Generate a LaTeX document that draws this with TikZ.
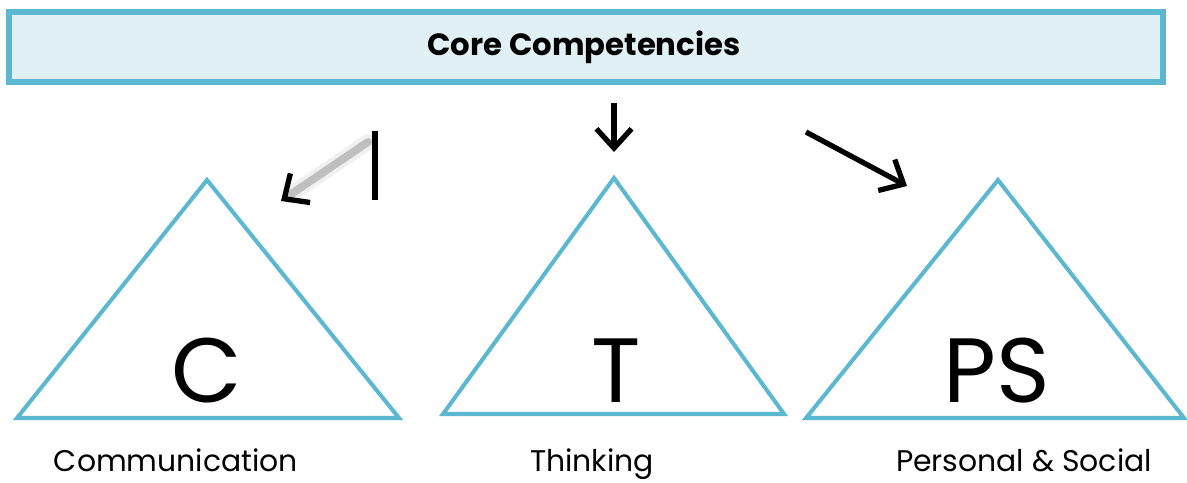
\documentclass[tikz,border=0pt]{standalone}
\usepackage{fontspec}
\setmainfont{Poppins}
\usetikzlibrary{arrows.meta,calc}
\definecolor{edgeblue}{HTML}{5BB8D0}
\definecolor{fillblue}{HTML}{E1F0F5}
\tikzset{
  tri/.style={draw=edgeblue, line width=2.3pt, line join=miter},
  arr/.style={line width=3pt, -{Straight Barb[length=11pt,width=20pt,line width=3pt]}},
  biglet/.style={font=\fontsize{52}{52}\selectfont, anchor=base, inner sep=0pt},
  lab/.style={font=\fontsize{17}{17}\selectfont, anchor=base, inner sep=0pt},
}
\begin{document}
\begin{tikzpicture}[x=0.02cm, y=-0.02cm]
\useasboundingbox (0,0) rectangle (1187,483);
% header
\node[draw=edgeblue, fill=fillblue, line width=3pt, minimum width=1154*0.02cm, minimum height=70*0.02cm, inner sep=0pt, anchor=center] (core) at (586,47) {};
\node[font=\fontsize{17.5}{17.5}\selectfont\bfseries, inner sep=0pt] (coretxt) at (584,47) {Core Competencies};
% triangles
\coordinate (cA) at (207,180); \coordinate (cL) at (17,418); \coordinate (cR) at (399,418);
\coordinate (tA) at (614,178); \coordinate (tL) at (443,414); \coordinate (tR) at (784,414);
\coordinate (pA) at (998,180); \coordinate (pL) at (806,418); \coordinate (pR) at (1184,418);
\draw[tri] (cA) -- (cL) -- (cR) -- cycle;
\draw[tri] (tA) -- (tL) -- (tR) -- cycle;
\draw[tri] (pA) -- (pL) -- (pR) -- cycle;
% big letters
\node[biglet] (Cl) at (207,402) {C};
\node[biglet] (Tl) at (616,402) {T};
\node[biglet] (PSl) at (997,402) {PS};
% labels
\node[lab] (comm) at (176,471) {Communication};
\node[lab] (think) at (592,471) {Thinking};
\node[lab] (pers) at (1024,471) {Personal \& Social};
% arrows
\coordinate (m0) at (614,103); \coordinate (m1) at (614,152);
\draw[arr] (m0) -- (m1);
\coordinate (r0) at (806,132); \coordinate (r1) at (907,186);
\draw[arr] (r0) -- (r1);
\coordinate (l0) at (368,142); \coordinate (l1) at (281,201);
\draw[line width=9pt, black, opacity=0.06, line cap=round] (l0) -- ($(l1)!0.1!(l0)$);
\draw[line width=4.5pt, gray!50, line cap=round, shorten >=5pt] (l0) -- (l1);
\draw[arr] ($(l1)!0.05!(l0)$) -- (l1);
\coordinate (b0) at (375,131); \coordinate (b1) at (375,200);
\draw[line width=3pt] (b0) -- (b1);
\end{tikzpicture}
\end{document}
